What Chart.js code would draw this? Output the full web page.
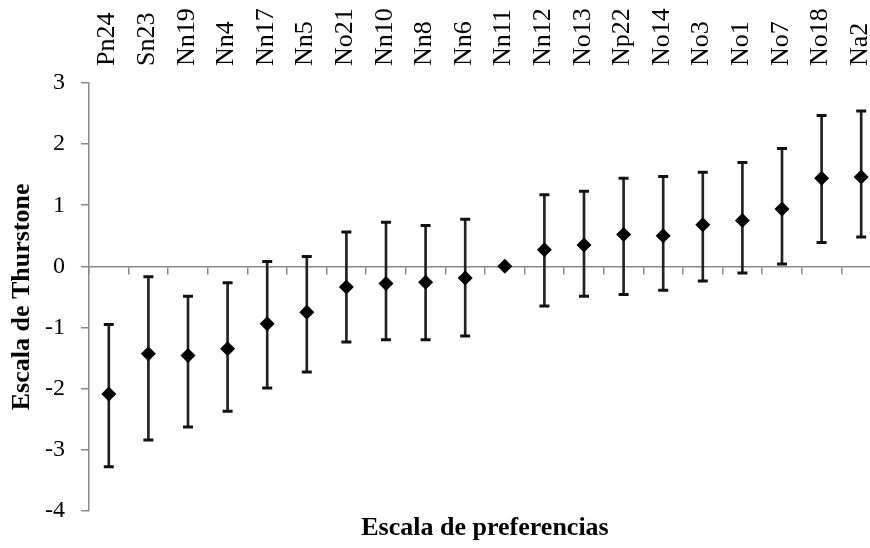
<!DOCTYPE html>
<html>
<head>
<meta charset="utf-8">
<script src="https://cdn.jsdelivr.net/npm/chart.js@4"></script>
<style>
  html, body { margin: 0; padding: 0; background: #fff; overflow: hidden; }
  #grafico { display: block; }
</style>
</head>
<body>
<canvas id="grafico" width="881" height="548"></canvas>
<script>
// Datos
const categorias = ["Pn24", "Sn23", "Nn19", "Nn4", "Nn17", "Nn5", "No21", "Nn10", "Nn8", "Nn6",
  "Nn11", "Nn12", "No13", "Np22", "No14", "No3", "No1", "No7", "No18", "Na2"];
const media = [-2.09, -1.43, -1.46, -1.35, -0.94, -0.75, -0.34, -0.28, -0.26, -0.19,
  0, 0.27, 0.35, 0.52, 0.50, 0.68, 0.75, 0.94, 1.44, 1.46];
const limSup = [-0.95, -0.17, -0.49, -0.27, 0.08, 0.16, 0.56, 0.72, 0.67, 0.77,
  null, 1.17, 1.23, 1.44, 1.47, 1.54, 1.70, 1.93, 2.47, 2.54];
const limInf = [-3.28, -2.84, -2.63, -2.37, -1.99, -1.73, -1.24, -1.20, -1.20, -1.14,
  null, -0.65, -0.49, -0.46, -0.39, -0.24, -0.11, 0.04, 0.39, 0.48];
const ticksY = [-4, -3, -2, -1, 0, 1, 2, 3];

const gris = "#8a8a8a";
const fuente = "'Liberation Serif', 'Times New Roman', serif";
Chart.defaults.color = "#000";
Chart.defaults.font.family = fuente;

let barras = limInf.map((v, i) => v === null ? null : [v, limSup[i]]);

new Chart(document.getElementById("grafico"), {
  type: "bar",
  data: {
    labels: categorias,
    datasets: [
      {
        type: "line",
        data: media,
        showLine: false,
        pointStyle: "rectRot",
        pointRadius: 7.5,
        pointBackgroundColor: "#000",
        pointBorderWidth: 0
      },
      {
        type: "line",
        data: limSup,
        showLine: false,
        pointStyle: "line",
        pointRadius: 5,
        pointBorderColor: "#111",
        pointBorderWidth: 3
      },
      {
        type: "line",
        data: limInf,
        showLine: false,
        pointStyle: "line",
        pointRadius: 5,
        pointBorderColor: "#111",
        pointBorderWidth: 3
      },
      {
        data: barras,
        backgroundColor: "#222",
        barThickness: 2
      }
    ]
  },
  options: {
    responsive: false,
    animation: false,
    events: [],
    layout: { padding: 0, autoPadding: false },
    plugins: { legend: { display: false }, tooltip: { enabled: false } },
    scales: {
      x: {
        position: "top",
        offset: true,
        border: { display: false },
        grid: { display: false, drawTicks: false },
        ticks: { minRotation: 90, maxRotation: 90, padding: 17, labelOffset: 30, font: { size: 26 }, autoSkip: false },
        afterFit: s => { s.height = 83; s.paddingLeft = 0; s.paddingRight = 0; }
      },
      x2: {
        type: "category",
        position: { y: 0 },
        offset: true,
        border: { color: gris, width: 1.5 },
        grid: { offset: true, drawOnChartArea: false, color: gris, lineWidth: 1.5, tickLength: 7 },
        ticks: { display: false }
      },
      x3: {
        type: "category",
        position: "bottom",
        offset: true,
        border: { display: false },
        grid: { display: false, drawTicks: false },
        ticks: { display: false },
        title: {
          display: true,
          text: "Escala de preferencias",
          font: { size: 26, weight: "bold" },
          padding: { top: 2, bottom: 4 }
        }
      },
      y: {
        min: -4,
        max: 3,
        afterBuildTicks: s => { s.ticks = ticksY.map(v => ({ value: v })); },
        border: { color: gris, width: 1.5 },
        grid: { drawOnChartArea: false, color: gris, lineWidth: 1.5, tickLength: 8 },
        ticks: { padding: 16, font: { size: 24 } },
        title: {
          display: true,
          text: "Escala de Thurstone",
          font: { size: 26, weight: "bold" },
          padding: { top: 7, bottom: 0 }
        },
        afterFit: s => { s.width = 89; }
      }
    }
  }
});
</script>
</body>
</html>
